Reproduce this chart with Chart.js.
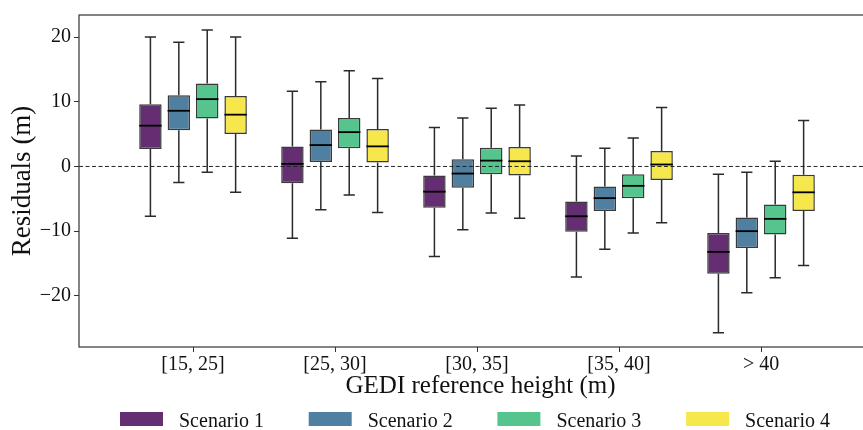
<!DOCTYPE html>
<html><head><meta charset="utf-8">
<script src="https://cdn.jsdelivr.net/npm/chart.js@4/dist/chart.umd.min.js"></script>
<style>html,body{margin:0;padding:0;background:#fff;overflow:hidden}#wrap{width:863px;height:430px;overflow:hidden;position:relative}</style>
</head><body><div id="wrap"><canvas id="c" width="883" height="430"></canvas></div>
<script>
const categories = ['[15, 25]', '[25, 30]', '[30, 35]', '[35, 40]', '> 40'];
const seriesNames = ['Scenario 1', 'Scenario 2', 'Scenario 3', 'Scenario 4'];
const seriesColors = ['#652e73', '#4f7fa1', '#55c48d', '#f6e84c'];
const yTickValues = [-20, -10, 0, 10, 20];

// Scenario 1: lower whisker, Q1, median, Q3, upper whisker per category
const s1Low = [-7.7, -11.1, -13.9, -17.1, -25.7];
const s1Q1  = [2.7, -2.6, -6.4, -10.1, -16.6];
const s1Med = [6.3, 0.4, -3.9, -7.7, -13.2];
const s1Q3  = [9.6, 3.1, -1.4, -5.4, -10.3];
const s1High = [20.0, 11.6, 6.0, 1.6, -1.2];
// Scenario 2
const s2Low = [-2.5, -6.7, -9.8, -12.8, -19.5];
const s2Q1  = [5.6, 0.7, -3.3, -6.9, -12.6];
const s2Med = [8.6, 3.3, -1.1, -4.9, -10.0];
const s2Q3  = [11.0, 5.7, 1.1, -3.1, -7.9];
const s2High = [19.2, 13.1, 7.5, 2.8, -0.9];
// Scenario 3
const s3Low = [-0.9, -4.4, -7.2, -10.3, -17.2];
const s3Q1  = [7.4, 2.8, -1.2, -4.9, -10.5];
const s3Med = [10.4, 5.3, 0.9, -3.0, -8.1];
const s3Q3  = [12.8, 7.5, 2.9, -1.2, -5.9];
const s3High = [21.1, 14.8, 9.0, 4.4, 0.8];
// Scenario 4
const s4Low = [-4.0, -7.1, -8.0, -8.7, -15.3];
const s4Q1  = [5.0, 0.6, -1.4, -2.1, -6.9];
const s4Med = [8.0, 3.1, 0.8, 0.3, -4.0];
const s4Q3  = [10.9, 5.8, 3.0, 2.4, -1.3];
const s4High = [20.0, 13.6, 9.5, 9.1, 7.1];

const lows = [s1Low, s2Low, s3Low, s4Low];
const q1s = [s1Q1, s2Q1, s3Q1, s4Q1];
const meds = [s1Med, s2Med, s3Med, s4Med];
const q3s = [s1Q3, s2Q3, s3Q3, s4Q3];
const highs = [s1High, s2High, s3High, s4High];

Chart.defaults.font.family = "'Liberation Serif', 'Times New Roman', serif";
Chart.defaults.color = '#111';

const datasets = seriesNames.map((name, di) => ({
  label: name,
  data: categories.map((c, i) => ({ x: i, y: [q1s[di][i], q3s[di][i]] })),
  backgroundColor: seriesColors[di],
  borderColor: '#3a3a3a',
  borderWidth: 1.5,
  borderSkipped: false,
  categoryPercentage: 0.8,
  barPercentage: 0.79
}));

const boxExtras = {
  id: 'boxExtras',
  afterDatasetsDraw(chart) {
    const ctx = chart.ctx, ys = chart.scales.y, a = chart.chartArea;
    ctx.save();
    ctx.setLineDash([4, 2.5]);
    ctx.strokeStyle = '#222';
    ctx.lineWidth = 1;
    const y0 = ys.getPixelForValue(0);
    ctx.beginPath(); ctx.moveTo(a.left, y0); ctx.lineTo(a.right, y0); ctx.stroke();
    ctx.setLineDash([]);
    chart.data.datasets.forEach((ds, di) => {
      const meta = chart.getDatasetMeta(di);
      meta.data.forEach((el, i) => {
        const p = el.getProps(['x', 'width'], true);
        const x = p.x, w = p.width;
        const yLo = ys.getPixelForValue(lows[di][i]);
        const yQ1 = ys.getPixelForValue(q1s[di][i]);
        const yMd = ys.getPixelForValue(meds[di][i]);
        const yQ3 = ys.getPixelForValue(q3s[di][i]);
        const yHi = ys.getPixelForValue(highs[di][i]);
        ctx.strokeStyle = '#2a2a2a';
        ctx.lineWidth = 1.5;
        ctx.beginPath();
        ctx.moveTo(x, yHi); ctx.lineTo(x, yQ3);
        ctx.moveTo(x, yQ1); ctx.lineTo(x, yLo);
        ctx.moveTo(x - w / 4, yHi); ctx.lineTo(x + w / 4, yHi);
        ctx.moveTo(x - w / 4, yLo); ctx.lineTo(x + w / 4, yLo);
        ctx.stroke();
        ctx.strokeStyle = '#000';
        ctx.lineWidth = 1.8;
        ctx.beginPath();
        ctx.moveTo(x - w / 2, yMd); ctx.lineTo(x + w / 2, yMd);
        ctx.stroke();
      });
    });
    ctx.restore();
  },
  afterDraw(chart) {
    const ctx = chart.ctx, a = chart.chartArea;
    ctx.save();
    ctx.strokeStyle = '#333';
    ctx.lineWidth = 1.2;
    ctx.strokeRect(a.left, a.top, a.right - a.left, a.bottom - a.top);
    // legend
    const startX = (a.left + a.right) / 2 - 360.5;
    const step = 188.7;
    ctx.font = "20px 'Liberation Serif'";
    ctx.textBaseline = 'alphabetic';
    ctx.textAlign = 'left';
    chart.data.datasets.forEach((ds, di) => {
      const lx = startX + di * step;
      ctx.fillStyle = ds.backgroundColor;
      ctx.fillRect(lx, 412, 43, 14);
      ctx.fillStyle = '#111';
      ctx.fillText(ds.label, lx + 59, 426.5);
    });
    ctx.restore();
  }
};

new Chart(document.getElementById('c'), {
  type: 'bar',
  data: { datasets },
  options: {
    responsive: false,
    devicePixelRatio: 1,
    animation: false,
    layout: { padding: { top: 12, right: 1, left: 0, bottom: 0 } },
    plugins: { legend: { display: false }, tooltip: { enabled: false } },
    scales: {
      x: {
        type: 'linear',
        min: -0.803,
        max: 4.852,
        offset: false,
        afterFit: s => { s.height = 83; },
        afterBuildTicks: s => { s.ticks = categories.map((c, i) => ({ value: i })); },
        grid: { drawOnChartArea: false, drawTicks: true, tickLength: 5, color: '#333', offset: false },
        border: { display: false },
        ticks: {
          autoSkip: false, maxRotation: 0, padding: 1,
          font: { size: 20 },
          callback: v => categories[v]
        },
        title: { display: true, text: 'GEDI reference height (m)', font: { size: 25 }, padding: { top: 0, bottom: 29 } }
      },
      y: {
        min: -27.9,
        max: 23.4,
        afterFit: s => { s.width = 79; },
        afterBuildTicks: s => { s.ticks = yTickValues.map(v => ({ value: v })); },
        grid: { drawOnChartArea: false, drawTicks: true, tickLength: 5, color: '#333' },
        border: { display: false },
        ticks: {
          padding: 3,
          font: { size: 20 },
          callback: v => (v < 0 ? '\u2212' + Math.abs(v) : String(v))
        },
        title: { display: true, text: 'Residuals (m)', font: { size: 27 }, padding: { top: 7, bottom: 0 } }
      }
    }
  },
  plugins: [boxExtras]
});
</script>
</body></html>
